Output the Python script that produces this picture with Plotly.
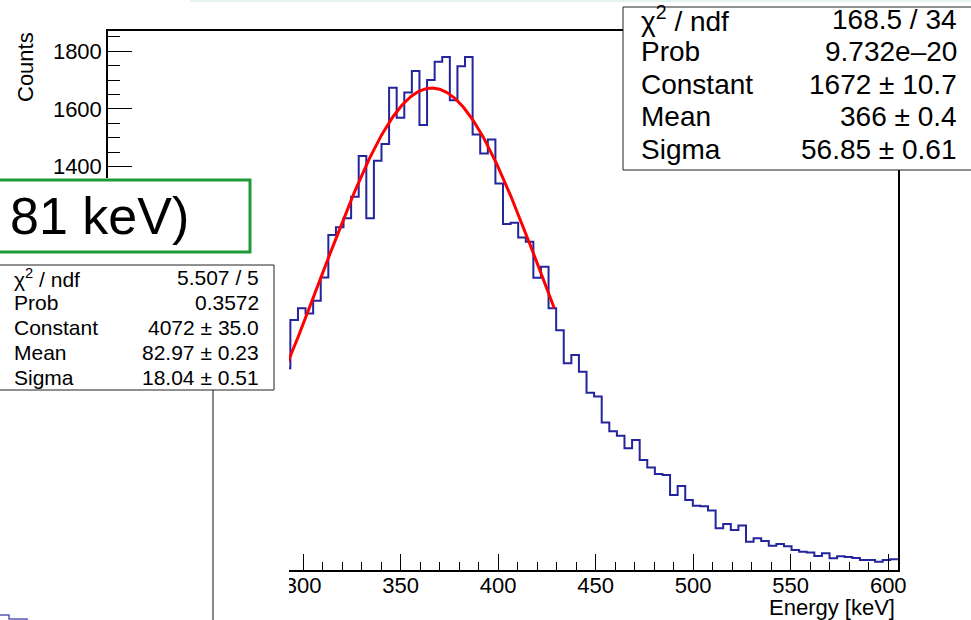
import numpy as np
import plotly.graph_objects as go

# ---------------- data ----------------
bin_low = 289.6          # keV, left edge of first (mostly hidden) bin
bin_width = 3.893        # keV
counts = [700, 867, 908, 890, 934, 1015, 1162, 1189, 1220, 1295, 1436, 1220, 1420,
          1478, 1673, 1569, 1657, 1731, 1544, 1700, 1763, 1780, 1630, 1748, 1780,
          1511, 1445, 1494, 1341, 1200, 1205, 1154, 1139, 1014, 1052, 908, 832, 717,
          746, 688, 615, 602, 512, 481, 466, 422, 451, 382, 356, 333, 330, 260, 291,
          243, 223, 221, 206, 145, 160, 139, 154, 98, 110, 101, 84, 90, 82, 69, 63,
          61, 49, 58, 41, 48, 45, 42, 35, 35, 29, 35, 37]

fit_constant, fit_mean, fit_sigma = 1672.0, 366.0, 56.85
fit_range = (280.0, 428.8)

stats_main_labels = ["χ<sup>2</sup> / ndf", "Prob", "Constant", "Mean", "Sigma"]
stats_main_values = ["168.5 / 34", "9.732e–20", "1672 ± 10.7", "366 ± 0.4", "56.85 ± 0.61"]
stats_low_labels = ["χ<sup>2</sup> / ndf", "Prob", "Constant", "Mean", "Sigma"]
stats_low_values = ["5.507 / 5", "0.3572", "4072 ± 35.0", "82.97 ± 0.23", "18.04 ± 0.51"]
box_text = "81 keV)"

x_range = [200, 605]
y_range = [0, 1870]
x_tickvals = [200, 250, 300, 350, 400, 450, 500, 550, 600]
x_ticktext = ["", "", "300", "350", "400", "450", "500", "550", "600"]   # 200/250 hidden under overlay
y_tickvals = [0, 200, 400, 600, 800, 1000, 1200, 1400, 1600, 1800]
y_ticktext = ["", "", "", "", "", "", "", "1400", "1600", "1800"]      # lower ones hidden under overlay

# ---------------- geometry helpers (pixel -> paper) ----------------
L, R, T, B = 108, 898, 31, 570
W, H = R - L, B - T
def px(x):
    return (x - L) / W
def py(y):
    return (B - y) / H

FONT = "Liberation Sans, Arial, Helvetica, sans-serif"

edges = bin_low + bin_width * np.arange(len(counts) + 1)
hx = edges
hy = list(counts) + [counts[-1]]

fx = np.linspace(fit_range[0], fit_range[1], 300)
fy = fit_constant * np.exp(-0.5 * ((fx - fit_mean) / fit_sigma) ** 2)

fig = go.Figure()
fig.add_trace(go.Scatter(x=hx, y=hy, mode="lines", line=dict(shape="hv", color="#24249c", width=2),
                         hoverinfo="skip", showlegend=False))
fig.add_trace(go.Scatter(x=fx, y=fy, mode="lines", line=dict(color="#ff0000", width=3),
                         hoverinfo="skip", showlegend=False))
# empty trace so the label-only axis exists
fig.add_trace(go.Scatter(x=[], y=[], xaxis="x2", yaxis="y", mode="lines",
                         hoverinfo="skip", showlegend=False))

fig.update_layout(
    width=971, height=620,
    margin=dict(l=L, r=971 - R, t=T, b=620 - B),
    paper_bgcolor="white", plot_bgcolor="white",
    font=dict(family=FONT, size=22, color="black"),
    xaxis=dict(range=x_range, tickmode="array", tickvals=x_tickvals, showticklabels=False,
               ticks="inside", ticklen=16, tickwidth=1,
               tickcolor="black", showline=True, linecolor="black", linewidth=1.5, mirror=True,
               showgrid=False, zeroline=False,
               minor=dict(dtick=10, tick0=0, ticks="inside", ticklen=8, tickcolor="black", showgrid=False)),
    xaxis2=dict(range=x_range, overlaying="x", anchor="free", position=0, side="bottom",
                tickmode="array", tickvals=x_tickvals, ticktext=x_ticktext, ticks="",
                showline=False, showgrid=False, zeroline=False, tickfont=dict(size=22)),
    yaxis=dict(range=y_range, tickmode="array", tickvals=y_tickvals, ticktext=y_ticktext,
               ticks="inside", ticklen=24, tickwidth=1,
               tickcolor="black", showline=True, linecolor="black", linewidth=1.5, mirror=True,
               showgrid=False, zeroline=False, tickfont=dict(size=22),
               minor=dict(dtick=50, tick0=0, ticks="inside", ticklen=12, tickcolor="black", showgrid=False)),
)

shapes = []
annots = []

# faint strip at very top
shapes.append(dict(type="rect", xref="paper", yref="paper", x0=px(190), x1=px(975), y0=py(2), y1=py(-2),
                   fillcolor="#e3f5ea", line=dict(width=0), layer="above"))

# white overlay piece on the left
shapes.append(dict(type="rect", xref="paper", yref="paper", x0=px(-5), x1=px(289), y0=py(625), y1=py(178),
                   fillcolor="white", line=dict(width=0), layer="above"))

# green title box
shapes.append(dict(type="rect", xref="paper", yref="paper", x0=px(-10), x1=px(250), y0=py(252), y1=py(180),
                   fillcolor="white", line=dict(color="#1e9a38", width=3), layer="above"))
annots.append(dict(xref="paper", yref="paper", x=px(8), y=py(216), xanchor="left", yanchor="middle",
                   text=box_text, showarrow=False, font=dict(size=52, family=FONT, color="black")))

# lower stats box
shapes.append(dict(type="line", xref="paper", yref="paper", x0=px(213), x1=px(213), y0=py(390), y1=py(625),
                   line=dict(color="#111111", width=1), layer="above"))
shapes.append(dict(type="rect", xref="paper", yref="paper", x0=px(-5), x1=px(274), y0=py(390), y1=py(265),
                   fillcolor="white", line=dict(color="#222222", width=1), layer="above"))
for i, (lab, val) in enumerate(zip(stats_low_labels, stats_low_values)):
    yc = 277.5 + 25 * i
    annots.append(dict(xref="paper", yref="paper", x=px(12), y=py(yc), xanchor="left", yanchor="middle",
                       text=lab, showarrow=False, font=dict(size=21, family=FONT, color="black")))
    annots.append(dict(xref="paper", yref="paper", x=px(261), y=py(yc), xanchor="right", yanchor="middle",
                       text=val, showarrow=False, font=dict(size=21, family=FONT, color="black")))

# fragment of another histogram at the bottom-left
shapes.append(dict(type="path", xref="paper", yref="paper",
                   path=f"M {px(-2)},{py(615)} L {px(9)},{py(615)} L {px(9)},{py(619)} L {px(27)},{py(619)} L {px(27)},{py(622)}",
                   line=dict(color="#5a5ab4", width=1.5), layer="above"))

# main stats box
shapes.append(dict(type="rect", xref="paper", yref="paper", x0=px(623), x1=px(980), y0=py(170), y1=py(7),
                   fillcolor="white", line=dict(color="#222222", width=1), layer="above"))
for i, (lab, val) in enumerate(zip(stats_main_labels, stats_main_values)):
    yc = 19 + 32.6 * i
    annots.append(dict(xref="paper", yref="paper", x=px(639), y=py(yc), xanchor="left", yanchor="middle",
                       text=lab, showarrow=False, font=dict(size=28, family=FONT, color="black")))
    annots.append(dict(xref="paper", yref="paper", x=px(959), y=py(yc), xanchor="right", yanchor="middle",
                       text=val, showarrow=False, font=dict(size=28, family=FONT, color="black")))

# axis titles (ROOT style, placed at the axis ends)
annots.append(dict(xref="paper", yref="paper", x=px(897), y=py(607), xanchor="right", yanchor="middle",
                   text="Energy [keV]", showarrow=False, font=dict(size=22, family=FONT, color="black")))
annots.append(dict(xref="paper", yref="paper", x=px(25), y=py(67), xanchor="center", yanchor="middle",
                   text="Counts", textangle=-90, showarrow=False, font=dict(size=22, family=FONT, color="black")))

fig.update_layout(shapes=shapes, annotations=annots)
fig.write_html("out.html")
